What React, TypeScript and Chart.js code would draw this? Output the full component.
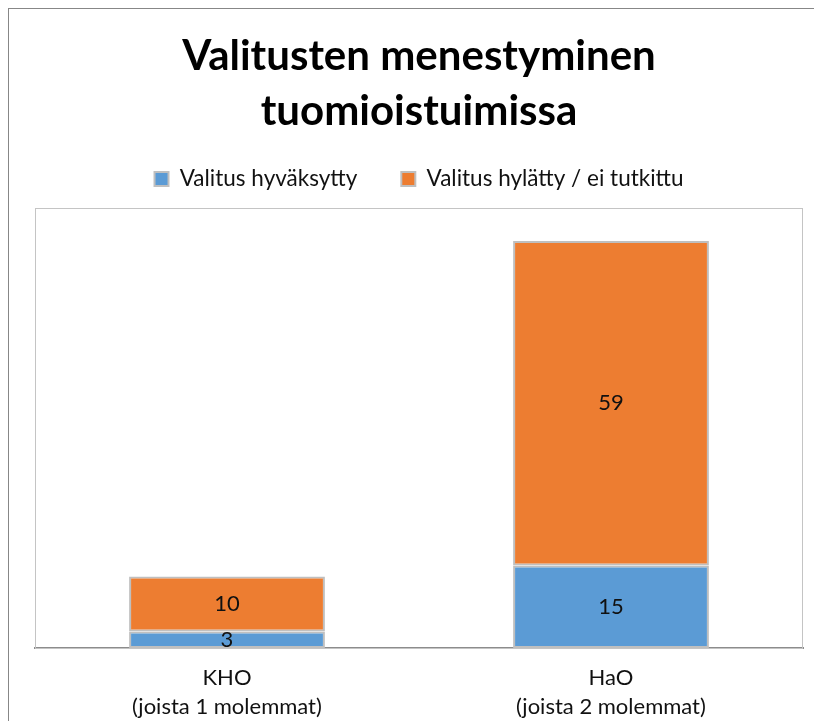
import { useEffect, useRef } from "react";
import { Chart, registerables } from "chart.js";

Chart.register(...registerables);

const titleLines = ["Valitusten menestyminen", "tuomioistuimissa"];
const categories = [
  ["KHO", "(joista 1 molemmat)"],
  ["HaO", "(joista 2 molemmat)"],
];
const seriesNames = ["Valitus hyväksytty", "Valitus hylätty / ei tutkittu"];
const acceptedValues = [3, 15];
const rejectedValues = [10, 59];
const seriesColors = ["#5b9bd5", "#ed7d31"];
const yMax = 80;

const FONT = "Lato";

const frameAndLabels = {
  id: "frameAndLabels",
  beforeInit(chart: any) {
    const legend = chart.legend;
    if (legend) {
      const orig = legend.fit;
      legend.fit = function () {
        orig.call(this);
        this.height = 84.25;
      };
    }
  },
  beforeDatasetsDraw(chart: any) {
    const { ctx, chartArea } = chart;
    ctx.save();
    ctx.strokeStyle = "#c4c4c4";
    ctx.lineWidth = 1;
    ctx.strokeRect(
      Math.round(chartArea.left) + 0.5,
      Math.round(chartArea.top) + 0.5,
      Math.round(chartArea.right - chartArea.left) - 1,
      Math.round(chartArea.bottom - chartArea.top)
    );
    ctx.restore();
  },
  afterDatasetsDraw(chart: any) {
    const { ctx } = chart;
    ctx.save();
    ctx.font = `22px ${FONT}`;
    ctx.fillStyle = "#111111";
    ctx.textAlign = "center";
    ctx.textBaseline = "middle";
    chart.data.datasets.forEach((ds: any, di: number) => {
      const meta = chart.getDatasetMeta(di);
      meta.data.forEach((bar: any, i: number) => {
        const v = ds.data[i];
        const y = (bar.y + bar.base) / 2;
        ctx.fillText(String(v), bar.x, y);
      });
    });
    ctx.restore();
  },
};

export default function App() {
  const ref = useRef<HTMLCanvasElement | null>(null);

  useEffect(() => {
    if (!ref.current) return;
    const chart = new Chart(ref.current, {
      type: "bar",
      data: {
        labels: categories,
        datasets: [
          {
            label: seriesNames[0],
            data: acceptedValues,
            backgroundColor: seriesColors[0],
            borderColor: "#bfbfbf",
            borderWidth: 2,
            borderSkipped: false,
          },
          {
            label: seriesNames[1],
            data: rejectedValues,
            backgroundColor: seriesColors[1],
            borderColor: "#bfbfbf",
            borderWidth: 2,
            borderSkipped: false,
          },
        ],
      },
      options: {
        responsive: false,
        animation: false,
        layout: { padding: { left: 26, right: 11, top: 0, bottom: 0 } },
        datasets: {
          bar: { categoryPercentage: 1, barPercentage: 0.51 },
        },
        plugins: {
          title: {
            display: true,
            text: titleLines,
            color: "#000000",
            font: { family: FONT, size: 42, weight: "bold", lineHeight: 1.31 },
            padding: { top: 19.5, bottom: -14.75 },
          },
          legend: {
            display: true,
            position: "top",
            labels: {
              font: { family: FONT, size: 22.5 },
              color: "#111111",
              boxWidth: 14,
              boxHeight: 14,
              padding: 44,
            },
          },
          tooltip: { enabled: false },
        },
        scales: {
          x: {
            stacked: true,
            grid: { display: false, drawTicks: false },
            border: { display: true, color: "#8c8c8c", width: 2 },
            ticks: {
              color: "#111111",
              font: { family: FONT, size: 22, lineHeight: 1.33 },
              padding: 15,
              maxRotation: 0,
            },
            afterFit(scale: any) {
              scale.height = 73;
            },
          },
          y: {
            stacked: true,
            display: false,
            min: 0,
            max: yMax,
          },
        },
      },
      plugins: [frameAndLabels],
    });
    return () => chart.destroy();
  }, []);

  return (
    <div
      style={{
        position: "fixed",
        left: 8,
        top: 8,
        width: 806,
        height: 713,
        borderLeft: "1px solid #878787",
        borderTop: "1px solid #878787",
        boxSizing: "border-box",
        overflow: "hidden",
      }}
    >
      <canvas ref={ref} width={805} height={712} style={{ display: "block" }} />
    </div>
  );
}
